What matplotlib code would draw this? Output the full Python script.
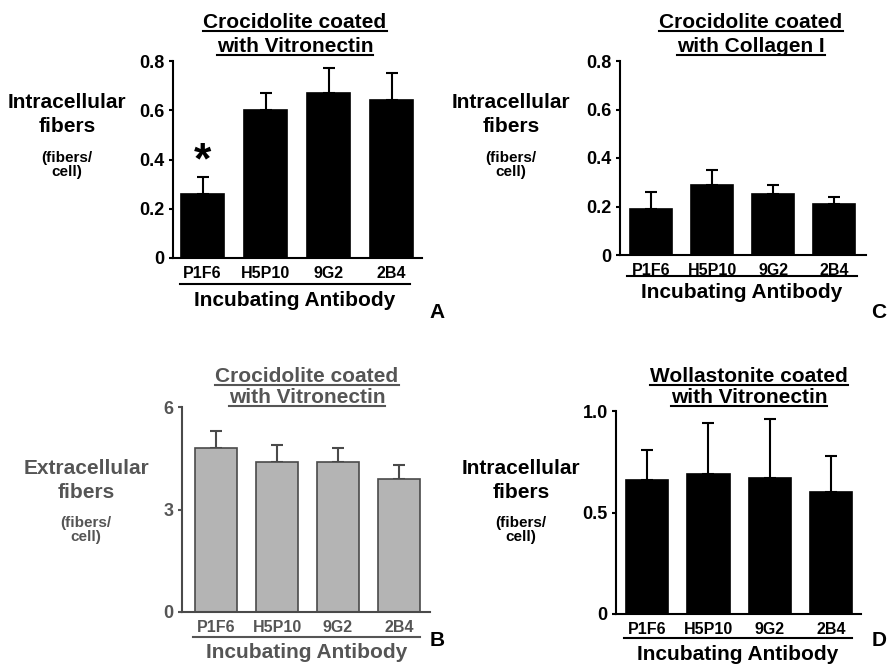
import matplotlib
matplotlib.use('Agg')
import matplotlib.pyplot as plt
from matplotlib.lines import Line2D

plt.rcParams['font.family'] = ['Liberation Sans', 'DejaVu Sans']
plt.rcParams['font.weight'] = 'bold'

W, H = 888, 666

antibodies = ['P1F6', 'H5P10', '9G2', '2B4']
xlabel = 'Incubating Antibody'

# A: crocidolite + vitronectin, intracellular
a_mean = [0.26, 0.60, 0.67, 0.64]
a_err = [0.07, 0.07, 0.10, 0.11]
a_ticks = [0, 0.2, 0.4, 0.6, 0.8]
a_ticklabels = ['0', '0.2', '0.4', '0.6', '0.8']

# C: crocidolite + collagen I, intracellular
c_mean = [0.19, 0.29, 0.25, 0.21]
c_err = [0.07, 0.06, 0.04, 0.03]

# B: crocidolite + vitronectin, extracellular
b_mean = [4.8, 4.4, 4.4, 3.9]
b_err = [0.5, 0.5, 0.4, 0.4]
b_ticks = [0, 3, 6]
b_ticklabels = ['0', '3', '6']

# D: wollastonite + vitronectin, intracellular
d_mean = [0.66, 0.69, 0.67, 0.60]
d_err = [0.15, 0.25, 0.29, 0.18]
d_ticks = [0, 0.5, 1.0]
d_ticklabels = ['0', '0.5', '1.0']


def fx(x):
    return x / W


def fy(y):
    return 1 - y / H


fig = plt.figure(figsize=(W / 100, H / 100), dpi=100)
titles = []


def panel(box, means, errs, ymax, ticks, ticklabels, xlim, title, ylab1, tloc,
          ylloc, bracket, letter, fc='black', ec='black', tc='black'):
    left, right, top, bottom = box
    ax = fig.add_axes([fx(left), fy(bottom), fx(right - left), (bottom - top) / H])
    x = range(len(means))
    ax.bar(x, means, width=0.69, color=fc, edgecolor=ec, linewidth=1.2, zorder=2)
    ax.errorbar(x, means, yerr=[[0] * len(errs), errs], fmt='none', ecolor=ec,
                elinewidth=1.5, capsize=4, capthick=1.5, zorder=1)
    ax.set_xlim(*xlim)
    ax.set_ylim(0, ymax)
    ax.set_yticks(ticks)
    ax.set_yticklabels(ticklabels)
    ax.set_xticks(list(x))
    ax.set_xticklabels(antibodies)
    for s in ['top', 'right']:
        ax.spines[s].set_visible(False)
    for s in ['left', 'bottom']:
        ax.spines[s].set_linewidth(1.5)
        ax.spines[s].set_color(ec if fc != 'black' else 'black')
    ax.tick_params(axis='y', length=3, width=1.5, pad=3, labelsize=13,
                   colors=tc)
    ax.tick_params(axis='x', length=0, pad=6, labelsize=11.5, colors=tc)
    ax.patch.set_alpha(0)

    # title, two underlined lines
    cx, y1, y2 = tloc
    for line, yy in zip(title, (y1, y2)):
        t = fig.text(fx(cx), fy(yy), line, ha='center', va='baseline',
                     fontsize=15, color=tc)
        titles.append((t, tc))

    # y label block
    lx, ly = ylloc
    fig.text(fx(lx), fy(ly), ylab1, ha='center', va='center', fontsize=15, color=tc)
    fig.text(fx(lx), fy(ly + 24), 'fibers', ha='center', va='center', fontsize=15, color=tc)
    fig.text(fx(lx), fy(ly + 55), '(fibers/', ha='center', va='center', fontsize=11, color=tc)
    fig.text(fx(lx), fy(ly + 69), 'cell)', ha='center', va='center', fontsize=11, color=tc)

    # bracket under the tick labels and the axis title
    bx0, bx1, by = bracket
    fig.add_artist(Line2D([fx(bx0), fx(bx1)], [fy(by), fy(by)], color=tc, lw=1.5))
    fig.text(fx((bx0 + bx1) / 2), fy(by + 16), xlabel, ha='center', va='center',
             fontsize=15, color=tc)

    lt, lxx, lyy = letter
    fig.text(fx(lxx), fy(lyy), lt, ha='center', va='center', fontsize=15,
             color='black')
    return ax


axA = panel((173, 422, 61, 258), a_mean, a_err, 0.8, a_ticks, a_ticklabels,
            (-0.47, 3.48), ['Crocidolite coated', 'with Vitronectin'], 'Intracellular',
            (295, 28, 52), (67, 103), (180, 410, 284), ('A', 437, 312))
axA.annotate('*', xy=(0, a_mean[0] + a_err[0]), xytext=(0, -4),
             textcoords='offset points', ha='center', va='bottom', fontsize=32)

panel((620, 866, 61, 255), c_mean, c_err, 0.8, a_ticks, a_ticklabels,
      (-0.51, 3.52), ['Crocidolite coated', 'with Collagen I'], 'Intracellular',
      (751, 28, 52), (511, 103), (627, 857, 276), ('C', 879, 312))

panel((182, 430, 407, 612), b_mean, b_err, 6, b_ticks, b_ticklabels,
      (-0.56, 3.51), ['Crocidolite coated', 'with Vitronectin'], 'Extracellular',
      (307, 382, 403), (86, 468), (193, 420, 637), ('B', 437, 640),
      fc='#b4b4b4', ec='#4a4a4a', tc='#555555')

panel((616, 861, 411, 614), d_mean, d_err, 1.0, d_ticks, d_ticklabels,
      (-0.51, 3.49), ['Wollastonite coated', 'with Vitronectin'], 'Intracellular',
      (749, 382, 403), (521, 468), (624, 852, 638), ('D', 879, 640))

# underline the titles
fig.canvas.draw()
r = fig.canvas.get_renderer()
for t, c in titles:
    bb = t.get_window_extent(r)
    _, ty = t.get_position()
    yb = ty * H - 3
    fig.add_artist(Line2D([bb.x0 / W, bb.x1 / W], [yb / H, yb / H], color=c, lw=1.5))

fig.savefig('out.png', dpi=100)
